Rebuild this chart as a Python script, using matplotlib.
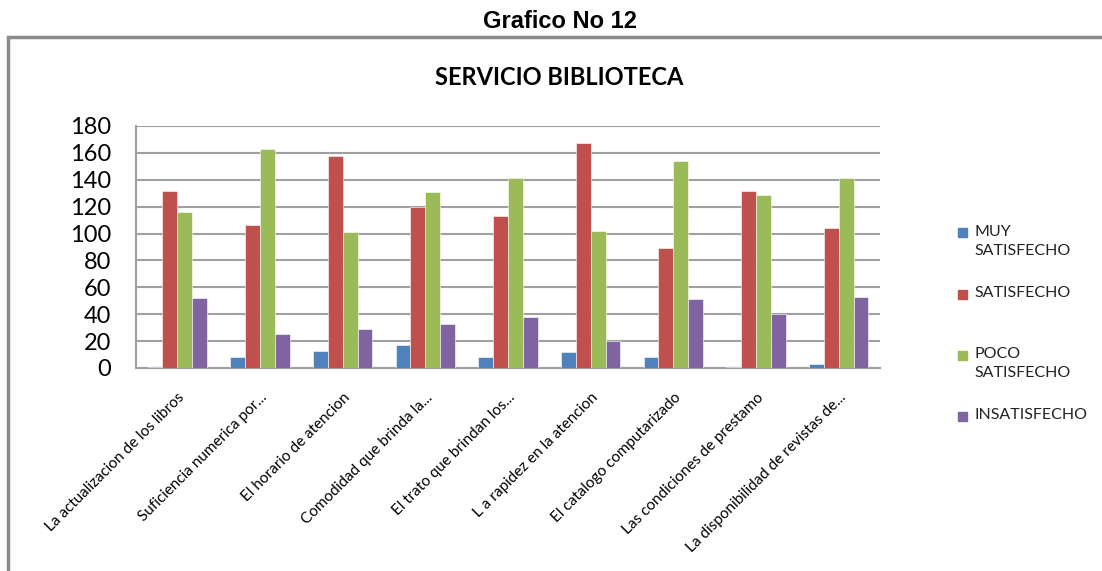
import numpy as np
import matplotlib.pyplot as plt
from matplotlib.patches import Rectangle

categories = [
    "La actualizacion de los libros",
    "Suficiencia numerica por...",
    "El horario de atencion",
    "Comodidad que brinda la...",
    "El trato que brindan los...",
    "L a rapidez en la atencion",
    "El catalogo computarizado",
    "Las condiciones de prestamo",
    "La disponibilidad de revistas de...",
]
series_names = ["MUY\nSATISFECHO", "SATISFECHO", "POCO\nSATISFECHO", "INSATISFECHO"]
muy_satisfecho = [1, 8, 13, 17, 8, 12, 8, 1, 3]
satisfecho = [132, 106, 158, 120, 113, 167, 89, 132, 104]
poco_satisfecho = [116, 163, 101, 131, 141, 102, 154, 129, 141]
insatisfecho = [52, 25, 29, 33, 38, 20, 51, 40, 53]
y_ticks = [0, 20, 40, 60, 80, 100, 120, 140, 160, 180]

colors = ["#4F81BD", "#C0504D", "#9BBB59", "#8064A2"]
body_font = ["Lato", "DejaVu Sans"]

W, H = 1102, 571
fig = plt.figure(figsize=(W / 100, H / 100), dpi=100)

# chart-area border (open on right / bottom like the cropped screenshot)
fig.patches.append(Rectangle((8 / W, -0.1), 1.2, (H - 37) / H + 0.1,
                             transform=fig.transFigure, fill=False,
                             edgecolor="#8C8C8C", linewidth=2.5))

fig.text(560 / W, 1 - 22 / H, "Grafico No 12", ha="center", va="center",
         fontsize=17, fontweight="bold",
         family=["Liberation Sans Narrow", "Liberation Sans", "DejaVu Sans"])
fig.text(559 / W, 1 - 77 / H, "SERVICIO BIBLIOTECA", ha="center", va="center",
         fontsize=17, fontweight="bold", family=body_font)

ax = fig.add_axes([136 / W, (H - 368) / H, (880 - 136) / W, (368 - 126) / H])

x = np.arange(len(categories))
w = 0.18
data = [muy_satisfecho, satisfecho, poco_satisfecho, insatisfecho]
for i, (vals, c) in enumerate(zip(data, colors)):
    ax.bar(x + (i - 1.5) * w, vals, width=w, color=c, edgecolor="white",
           linewidth=0.4, zorder=3)

ax.set_xlim(-0.5, len(categories) - 0.5)
ax.set_ylim(0, 180)
ax.set_yticks(y_ticks)
ax.set_yticklabels([str(t) for t in y_ticks], fontsize=17, family=body_font)
ax.yaxis.grid(True, color="#A0A0A0", linewidth=1.5, zorder=0)
ax.set_axisbelow(True)

ax.set_xticks(x)
ax.set_xticklabels(categories, rotation=45, ha="right", rotation_mode="anchor",
                   fontsize=11, family=body_font)
ax.tick_params(axis="x", length=0, pad=16)
ax.tick_params(axis="y", length=0, pad=18)

for side in ["top", "right"]:
    ax.spines[side].set_visible(False)
for side in ["left", "bottom"]:
    ax.spines[side].set_color("#A0A0A0")
    ax.spines[side].set_linewidth(1.5)

# legend drawn like Excel's: marker level with the first line of each label
for i, (name, c) in enumerate(zip(series_names, colors)):
    yc = 1 - (233 + 61 * i) / H
    fig.patches.append(Rectangle((958 / W, yc - 4.5 / H), 9 / W, 9 / H,
                                 transform=fig.transFigure, color=c))
    fig.text(974 / W, yc + 8 / H, name, ha="left", va="top", fontsize=11.5,
             family=body_font, linespacing=1.45, color="#222222")

fig.savefig("out.png", dpi=100)
